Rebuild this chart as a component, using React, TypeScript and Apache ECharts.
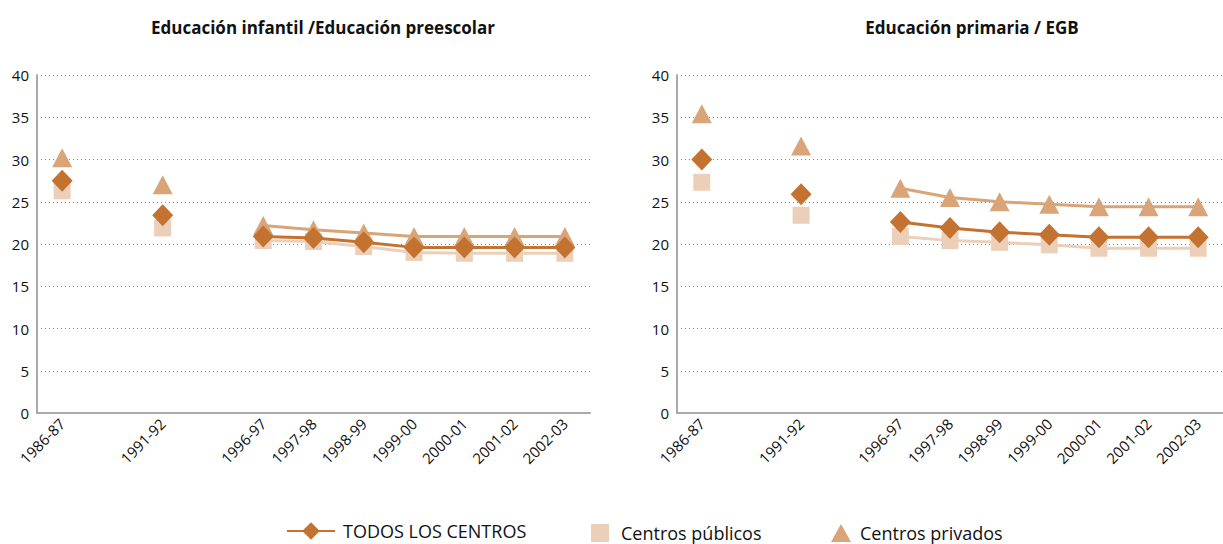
import React, { useEffect, useRef } from "react";
import * as echarts from "echarts";

const categories = ["1986-87", "", "1991-92", "", "1996-97", "1997-98", "1998-99", "1999-00", "2000-01", "2001-02", "2002-03"];
const yTicks = [0, 5, 10, 15, 20, 25, 30, 35, 40];

const titleLeft = "Educación infantil /Educación preescolar";
const titleRight = "Educación primaria / EGB";
const nameTodos = "TODOS LOS CENTROS";
const namePublicos = "Centros públicos";
const namePrivados = "Centros privados";

const infTodos = [27.5, null, 23.4, null, 20.9, 20.7, 20.2, 19.6, 19.6, 19.6, 19.6];
const infPublicos = [26.3, null, 21.9, null, 20.4, 20.3, 19.7, 19.0, 18.9, 18.9, 18.9];
const infPrivados = [30.2, null, 27.0, null, 22.2, 21.7, 21.3, 20.9, 20.9, 20.9, 20.9];

const priTodos = [30.0, null, 25.9, null, 22.6, 21.9, 21.4, 21.1, 20.8, 20.8, 20.8];
const priPublicos = [27.3, null, 23.4, null, 20.9, 20.4, 20.2, 19.9, 19.5, 19.5, 19.5];
const priPrivados = [35.4, null, 31.6, null, 26.6, 25.5, 25.0, 24.7, 24.4, 24.4, 24.4];

const cTodos = "#C4722F";
const cPublicos = "#ECCFB8";
const cPrivados = "#D9A477";
const FONT = "'Open Sans', 'Noto Sans', sans-serif";

export default function App() {
  const ref = useRef<HTMLDivElement>(null);
  useEffect(() => {
    if (!ref.current) return;
    const chart = echarts.init(ref.current, undefined, { renderer: "svg" });
    const grids = [
      { left: 37, top: 75, width: 553, height: 338 },
      { left: 677, top: 75, width: 557, height: 338 },
    ];
    const xAxis = grids.map((_, i) => ({
      type: "category",
      gridIndex: i,
      data: categories,
      boundaryGap: true,
      axisLine: { lineStyle: { color: "#aaaaaa", width: 2 } },
      axisTick: { show: false },
      axisLabel: { interval: 0, rotate: 45, fontSize: 15, color: "#111", fontFamily: FONT, margin: 8 },
    }));
    const yAxis = grids.map((_, i) => ({
      type: "value",
      gridIndex: i,
      min: yTicks[0],
      max: yTicks[yTicks.length - 1],
      interval: 5,
      axisLine: { show: true, lineStyle: { color: "#aaaaaa", width: 2 } },
      axisTick: { show: false },
      axisLabel: { fontSize: 15, color: "#111", fontFamily: FONT, margin: 8 },
      splitLine: { lineStyle: { color: "#888", type: [1, 3], width: 1 } },
    }));
    const mk = (i: number, pub: any[], priv: any[], todos: any[]) => [
      {
        name: namePublicos, type: "line", xAxisIndex: i, yAxisIndex: i, data: pub,
        symbol: "rect", symbolSize: 17, showAllSymbol: true,
        lineStyle: { color: cPublicos, width: 3 }, itemStyle: { color: cPublicos },
      },
      {
        name: namePrivados, type: "line", xAxisIndex: i, yAxisIndex: i, data: priv,
        symbol: "triangle", symbolSize: [20, 19], showAllSymbol: true,
        lineStyle: { color: cPrivados, width: 3 }, itemStyle: { color: cPrivados },
      },
      {
        name: nameTodos, type: "line", xAxisIndex: i, yAxisIndex: i, data: todos,
        symbol: "diamond", symbolSize: [21, 22], showAllSymbol: true,
        lineStyle: { color: cTodos, width: 3 }, itemStyle: { color: cTodos },
      },
    ];
    const legendText = { fontSize: 18, color: "#111", fontFamily: FONT };
    chart.setOption({
      animation: false,
      backgroundColor: "#ffffff",
      title: [
        { text: titleLeft, left: 318, top: 14, textAlign: "center", textStyle: { fontSize: 17, fontWeight: "bold", color: "#111", fontFamily: FONT } },
        { text: titleRight, left: 967, top: 14, textAlign: "center", textStyle: { fontSize: 17, fontWeight: "bold", color: "#111", fontFamily: FONT } },
      ],
      legend: [
        { data: [{ name: nameTodos }], left: 286, top: 522, padding: 0, itemWidth: 48, itemHeight: 22, textStyle: { ...legendText, padding: [0, 0, 0, 3] } },
        { data: [{ name: namePublicos, icon: "rect" }], left: 591, top: 524, padding: 0, itemWidth: 18, itemHeight: 18, textStyle: { ...legendText, padding: [0, 0, 0, 7] } },
        { data: [{ name: namePrivados, icon: "triangle" }], left: 831, top: 524, padding: 0, itemWidth: 20, itemHeight: 18, textStyle: { ...legendText, padding: [0, 0, 0, 4] } },
      ],
      grid: grids,
      xAxis,
      yAxis,
      series: [...mk(0, infPublicos, infPrivados, infTodos), ...mk(1, priPublicos, priPrivados, priTodos)],
    });
    return () => chart.dispose();
  }, []);
  return <div ref={ref} style={{ position: "fixed", left: 0, top: 0, width: 1223, height: 544 }} />;
}
